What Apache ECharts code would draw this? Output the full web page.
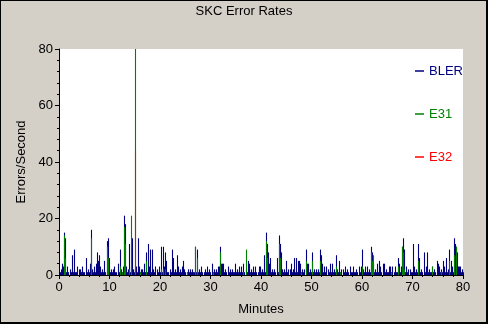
<!DOCTYPE html>
<html>
<head>
<meta charset="utf-8">
<script src="https://cdn.jsdelivr.net/npm/echarts@6/dist/echarts.min.js"></script>
<style>html,body{margin:0;padding:0;background:#d4d0c8;}#c{width:488px;height:324px;}</style>
</head>
<body>
<div id="c"></div>
<script>
// Chart text
const chartTitle = 'SKC Error Rates';
const xName = 'Minutes';
const yName = 'Errors/Second';
const seriesNames = ['BLER', 'E31', 'E32'];
const seriesColors = ['#000080', '#008000', '#ff0000'];

// Time axis: 80 minutes, one sample per 80/404 minutes
const totalMinutes = 80;
const sampleCount = 404;
const sampleStep = totalMinutes / sampleCount;

// BLER errors/second, one value per sample
const blerValues = [
  1,2,4,3,15,13,1,3,1,0,2,1,7,1,9,1,1,3,0,2,
  2,1,3,1,1,0,6,1,2,1,4,16,2,1,3,1,4,8,5,7,
  3,1,2,1,5,1,0,12,13,6,1,2,1,2,3,1,1,0,4,1,
  9,2,1,3,21,18,3,1,2,11,1,3,13,2,1,2,3,1,13,3,
  1,2,2,1,4,1,8,1,11,3,9,1,9,2,1,3,0,2,1,3,
  1,10,1,10,3,8,5,1,1,0,2,1,9,6,1,2,1,7,3,1,
  2,1,3,5,2,1,0,1,2,1,2,1,2,1,1,10,1,9,1,2,
  1,3,1,0,1,2,1,3,1,2,1,0,4,1,2,1,2,1,3,3,
  10,4,4,4,1,2,1,0,3,1,2,1,2,1,1,4,1,2,1,3,
  1,3,1,4,1,0,2,1,5,4,1,2,1,3,1,3,1,0,1,3,
  3,1,2,1,7,1,15,11,8,4,6,1,2,1,2,1,0,6,1,14,
  11,8,2,1,2,1,5,1,2,0,2,4,1,2,6,1,6,1,5,5,
  4,1,2,1,2,0,9,4,4,1,2,1,8,1,2,1,2,1,2,1,
  9,7,4,1,3,1,3,0,2,1,4,1,4,1,2,1,7,2,1,5,
  1,2,0,2,1,3,1,2,1,0,3,1,1,3,1,1,2,1,0,3,
  1,3,9,2,1,3,1,3,1,2,1,10,8,4,1,2,1,4,1,5,
  3,1,0,4,4,1,2,1,1,3,3,1,3,0,1,3,1,1,6,4,
  1,3,10,13,9,1,3,1,2,0,2,1,1,11,3,1,2,1,11,6,
  1,2,1,0,8,1,3,8,1,2,1,1,3,1,2,1,0,5,4,3,
  1,2,1,5,3,1,6,1,2,9,1,5,3,1,13,11,10,8,3,3,
  3,1,2,1
];

// E31 errors/second: [sample index, value] (zero elsewhere)
const e31Samples = [
  [4,14],[5,6],[31,13],[47,10],[48,6],[60,3],[62,1],[64,17],[65,11],[69,2],
  [71,21],[75,80],[80,1],[86,5],[101,2],[103,2],[105,2],[127,1],[135,10],[137,6],
  [153,1],[160,8],[183,1],[186,9],[206,12],[207,6],[219,11],[220,6],[241,1],[246,5],
  [252,5],[260,5],[276,3],[280,1],[302,3],[311,8],[312,5],[313,7],[331,1],[338,3],
  [342,10],[343,8],[344,2],[358,5],[372,3],[381,1],[389,5],[394,7],[396,10]
];

// E32 errors/second: [sample index, value] (zero elsewhere)
const e32Samples = [
  [75,44]
];

const minuteOf = i => (i + 1.5) * sampleStep;
const blerData = blerValues.map((v, i) => [minuteOf(i), v]);
const e31Data = e31Samples.map(([i, v]) => [minuteOf(i), v]);
const e32Data = e32Samples.map(([i, v]) => [minuteOf(i), v]);

const chart = echarts.init(document.getElementById('c'), null, {renderer: 'canvas'});
const font = 'Arial, "Liberation Sans", sans-serif';

function barSeries(name, data, color, z) {
  return {
    name: name, type: 'bar', data: data, barWidth: 1.1, barGap: '-100%',
    itemStyle: {color: color}, z: z, silent: true, large: false
  };
}

chart.setOption({
  animation: false,
  backgroundColor: 'transparent',
  graphic: [
    {type: 'rect', shape: {x: 0, y: 0, width: 488, height: 324}, style: {fill: '#000'}, z: -10, silent: true},
    {type: 'rect', shape: {x: 1, y: 1, width: 485, height: 321}, style: {fill: '#d4d0c8'}, z: -9, silent: true}
  ],
  title: {
    text: chartTitle, left: 'center', top: 0,
    textStyle: {fontFamily: font, fontSize: 13, fontWeight: 'normal', color: '#000'}
  },
  legend: {
    orient: 'vertical', left: 415, top: 64, padding: 0,
    itemGap: 29, itemWidth: 9, itemHeight: 1.5, icon: 'rect',
    selectedMode: false,
    textStyle: {fontFamily: font, fontSize: 13, lineHeight: 14},
    data: seriesNames.map((n, k) => ({name: n, textStyle: {color: seriesColors[k]}}))
  },
  grid: {
    left: 59, top: 49, width: 404, height: 226,
    show: true, backgroundColor: '#ffffff', borderWidth: 0
  },
  xAxis: {
    type: 'value', min: 0, max: totalMinutes, interval: 10,
    name: xName, nameLocation: 'middle', nameGap: 28,
    nameTextStyle: {fontFamily: font, fontSize: 13, color: '#000'},
    axisLine: {show: true, onZero: false, lineStyle: {color: '#000', width: 1}},
    axisTick: {show: true, inside: false, length: 4, lineStyle: {color: '#000'}},
    minorTick: {show: true, splitNumber: 5, length: 2, lineStyle: {color: '#000'}},
    axisLabel: {fontFamily: font, fontSize: 13, color: '#000', margin: 6},
    splitLine: {show: false}
  },
  yAxis: {
    type: 'value', min: 0, max: 80, interval: 20,
    name: yName, nameLocation: 'middle', nameGap: 31,
    nameTextStyle: {fontFamily: font, fontSize: 13, color: '#000'},
    axisLine: {show: true, onZero: false, lineStyle: {color: '#000', width: 1}},
    axisTick: {show: true, inside: false, length: 4, lineStyle: {color: '#000'}},
    minorTick: {show: true, splitNumber: 5, length: 2, lineStyle: {color: '#000'}},
    axisLabel: {fontFamily: font, fontSize: 13, color: '#000', margin: 6},
    splitLine: {show: false}
  },
  series: [
    barSeries(seriesNames[0], blerData, seriesColors[0], 2),
    barSeries(seriesNames[1], e31Data, seriesColors[1], 3),
    barSeries(seriesNames[2], e32Data, seriesColors[2], 4)
  ]
});
</script>
</body>
</html>
